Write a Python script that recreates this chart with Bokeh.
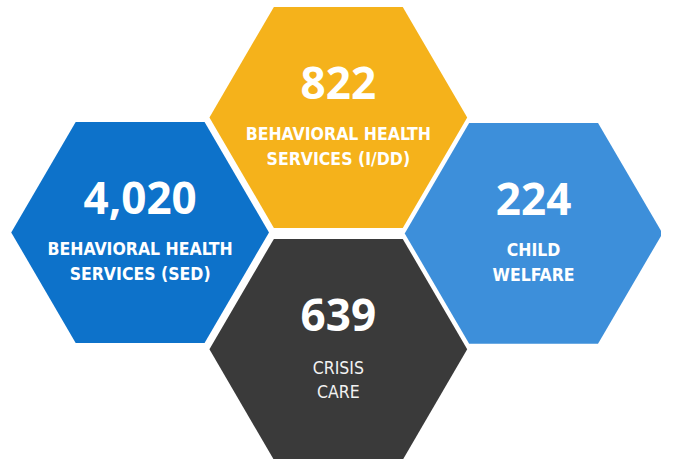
from bokeh.plotting import figure
from bokeh.models import Range1d, ColumnDataSource
from bokeh.embed import file_html
from bokeh.resources import INLINE
from bokeh.core.properties import value
import math

# data
counts = ["822", "4,020", "224", "639"]
label_line1 = ["BEHAVIORAL HEALTH", "BEHAVIORAL HEALTH", "CHILD", "CRISIS"]
label_line2 = ["SERVICES (I/DD)", "SERVICES (SED)", "WELFARE", "CARE"]
colors = ["#f5b21b", "#0d72ca", "#3d8fda", "#3a3a3a"]

# layout (reference pixel coordinates)
cx = [346, 143, 546, 346]
cy = [121, 240, 241, 361]
R = 132

xs, ys = [], []
for x0, y0 in zip(cx, cy):
    xs.append([x0 + R * math.cos(math.radians(a)) for a in range(0, 360, 60)])
    ys.append([y0 + R * math.sin(math.radians(a)) for a in range(0, 360, 60)])

p = figure(width=661, height=459, output_backend="svg", toolbar_location=None,
           x_range=Range1d(0, 677), y_range=Range1d(475, 0),
           min_border=0)
p.axis.visible = False
p.grid.visible = False
p.outline_line_color = None
p.background_fill_color = "white"
p.border_fill_color = "white"

p.patches(xs, ys, fill_color=colors, line_color=None)

num_y = [y - 36 for y in cy]
l1_y = [y + 17 for y in cy]
l2_y = [y + 43 for y in cy]

LABEL_FONT = value("DejaVu Sans Condensed")

src_n = ColumnDataSource(dict(x=cx, y=num_y, t=counts))
p.text(x="x", y="y", text="t", source=src_n, text_align="center", text_baseline="middle",
       text_font=value("Open Sans"), text_font_size="44px", text_font_style="bold",
       text_color="white")

bold_idx = [0, 1, 2]
src1 = ColumnDataSource(dict(x=[cx[i] for i in bold_idx], y=[l1_y[i] for i in bold_idx],
                             t=[label_line1[i] for i in bold_idx]))
src2 = ColumnDataSource(dict(x=[cx[i] for i in bold_idx], y=[l2_y[i] for i in bold_idx],
                             t=[label_line2[i] for i in bold_idx]))
for s in (src1, src2):
    p.text(x="x", y="y", text="t", source=s, text_align="center", text_baseline="middle",
           text_font=LABEL_FONT, text_font_size="17.5px", text_font_style="bold",
           text_color="white")

src3 = ColumnDataSource(dict(x=[cx[3], cx[3]], y=[l1_y[3] + 2, l2_y[3] + 1],
                             t=[label_line1[3], label_line2[3]]))
p.text(x="x", y="y", text="t", source=src3, text_align="center", text_baseline="middle",
       text_font=LABEL_FONT, text_font_size="17.5px", text_font_style="normal",
       text_color="#f2f2f2")

open("out.html", "w").write(file_html(p, INLINE))
